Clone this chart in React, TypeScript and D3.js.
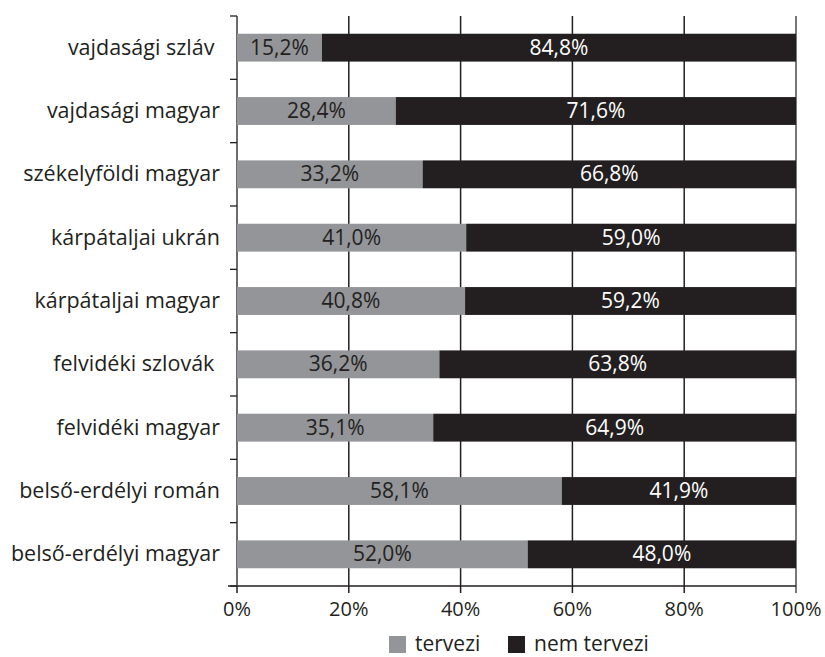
import React from 'react';
import * as d3 from 'd3';

// categories, top to bottom
const categories = [
  'vajdasági szláv ',
  'vajdasági magyar',
  'székelyföldi magyar',
  'kárpátaljai ukrán',
  'kárpátaljai magyar',
  'felvidéki szlovák ',
  'felvidéki magyar',
  'belső-erdélyi román',
  'belső-erdélyi magyar',
];
const tervezi = [15.2, 28.4, 33.2, 41.0, 40.8, 36.2, 35.1, 58.1, 52.0];
const nemTervezi = [84.8, 71.6, 66.8, 59.0, 59.2, 63.8, 64.9, 41.9, 48.0];
const xTicks = [0, 20, 40, 60, 80, 100];
const seriesNames = ['tervezi', 'nem tervezi'];
const seriesColors = ['#939598', '#231f20'];
const labelColors = ['#231f20', '#ffffff'];

const W = 825;
const H = 657;
const margin = { top: 16, right: 29, bottom: 71, left: 237 };
const FONT = '"Open Sans", sans-serif';

const fmt = (v: number) => v.toFixed(1).replace('.', ',') + '%';

const App = () => {
  const x = d3.scaleLinear().domain([0, 100]).range([margin.left, W - margin.right]);
  const y = d3
    .scaleBand<string>()
    .domain(categories)
    .range([margin.top, H - margin.bottom])
    .paddingInner(0.56)
    .paddingOuter(0.28);
  const step = y.step();
  const y0 = margin.top;
  const y1 = H - margin.bottom;

  const rows = categories.map((c, i) => ({ c, vals: [tervezi[i], nemTervezi[i]] }));
  const stacked = rows.map((r) => {
    let acc = 0;
    return r.vals.map((v, k) => {
      const seg = { k, x0: acc, x1: acc + v, v };
      acc += v;
      return seg;
    });
  });

  const boundaries = d3.range(categories.length + 1).map((i) => y0 + i * step);

  // legend layout
  const legendY = 636;
  const sq = 17;
  const legendX = [389, 508];

  return (
    <svg
      width={W}
      height={H}
      style={{ position: 'absolute', left: 0, top: 0, background: '#fff' }}
      fontFamily={FONT}
    >
      {/* vertical grid */}
      {xTicks.slice(1).map((t) => (
        <line key={'g' + t} x1={x(t)} x2={x(t)} y1={y0} y2={y1 + 7} stroke={t === 100 ? '#4d4d4f' : '#231f20'} strokeWidth={1.5} />
      ))}
      {/* x axis line + ticks */}
      <line x1={margin.left - 9} x2={x(100)} y1={y1} y2={y1} stroke="#231f20" strokeWidth={1.5} />
      <line x1={x(0)} x2={x(0)} y1={y1} y2={y1 + 7} stroke="#231f20" strokeWidth={1.5} />
      {/* y axis */}
      <line x1={x(0)} x2={x(0)} y1={y0} y2={y1} stroke="#3a3a3c" strokeWidth={1.5} />
      {boundaries.map((b, i) => (
        <line key={'yt' + i} x1={x(0) - 7} x2={x(0)} y1={b} y2={b} stroke="#231f20" strokeWidth={1.3} />
      ))}

      {/* bars */}
      {rows.map((r, i) =>
        stacked[i].map((s) => (
          <rect
            key={r.c + s.k}
            x={x(s.x0)}
            y={y(r.c)}
            width={x(s.x1) - x(s.x0)}
            height={y.bandwidth()}
            fill={seriesColors[s.k]}
          />
        ))
      )}
      {/* value labels */}
      {rows.map((r, i) =>
        stacked[i].map((s) => (
          <text
            key={'v' + r.c + s.k}
            x={(x(s.x0) + x(s.x1)) / 2}
            y={(y(r.c) as number) + y.bandwidth() / 2 + 7}
            textAnchor="middle"
            fontSize={21}
            fill={labelColors[s.k]}
          >
            {fmt(s.v)}
          </text>
        ))
      )}

      {/* category labels */}
      {categories.map((c) => (
        <text
          key={'c' + c}
          x={220}
          y={(y(c) as number) + y.bandwidth() / 2 + 7}
          textAnchor="end"
          fontSize={21.5}
          fill="#231f20"
          style={{ whiteSpace: 'pre' }}
        >
          {c}
        </text>
      ))}

      {/* x tick labels */}
      {xTicks.map((t) => (
        <text key={'xt' + t} x={x(t)} y={616} textAnchor="middle" fontSize={20} fill="#231f20">
          {t + '%'}
        </text>
      ))}

      {/* legend */}
      {seriesNames.map((n, k) => (
        <g key={'l' + n}>
          <rect x={legendX[k]} y={legendY} width={sq} height={sq} fill={seriesColors[k]} />
          <text x={legendX[k] + sq + 9} y={legendY + 15} fontSize={21} fill="#231f20">
            {n}
          </text>
        </g>
      ))}
    </svg>
  );
};

export default App;
